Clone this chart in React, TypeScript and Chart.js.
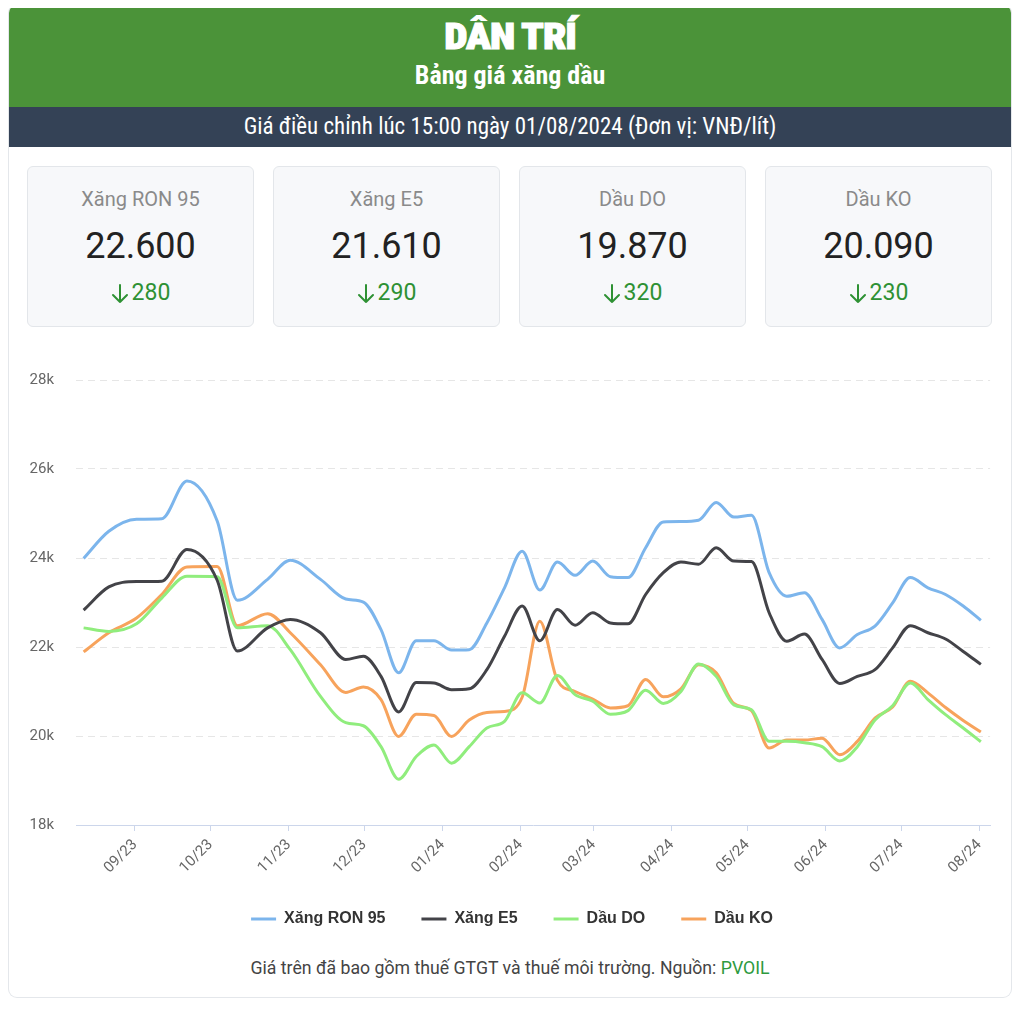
import React, { useEffect, useRef } from "react";
import { Chart, registerables } from "chart.js";

Chart.register(...registerables);

// ---------- DATA ----------
const dates = [
  "2023-08-11", "2023-08-21", "2023-09-01", "2023-09-11", "2023-09-21", "2023-10-03",
  "2023-10-11", "2023-10-23", "2023-11-01", "2023-11-13", "2023-11-23", "2023-11-30",
  "2023-12-07", "2023-12-14", "2023-12-21", "2023-12-28", "2024-01-04", "2024-01-11",
  "2024-01-18", "2024-01-25", "2024-02-01", "2024-02-08", "2024-02-15", "2024-02-22",
  "2024-02-29", "2024-03-07", "2024-03-14", "2024-03-21", "2024-03-28", "2024-04-04",
  "2024-04-11", "2024-04-18", "2024-04-25", "2024-05-02", "2024-05-09", "2024-05-16",
  "2024-05-23", "2024-05-30", "2024-06-06", "2024-06-13", "2024-06-20", "2024-06-27",
  "2024-07-04", "2024-07-11", "2024-07-18", "2024-07-25", "2024-08-01",
];

const ron95 = [
  23990, 24600, 24870, 24880, 25730, 24830, 23050, 23520, 23950, 23520, 23080, 23010,
  22390, 21420, 22140, 22140, 21930, 21940, 22540, 23330, 24150, 23280, 23910, 23610,
  23930, 23580, 23560, 24230, 24810, 24820, 24850, 25250, 24920, 24960, 23670, 23140,
  23220, 22620, 21980, 22280, 22470, 22990, 23560, 23330, 23180, 22920, 22600,
];

const e5 = [
  22830, 23350, 23470, 23480, 24190, 23500, 21910, 22430, 22620, 22320, 21720, 21790,
  21340, 20540, 21200, 21190, 21040, 21060, 21490, 22240, 22920, 22140, 22840, 22490,
  22770, 22540, 22520, 23180, 23670, 23910, 23860, 24230, 23930, 23920, 22770, 22130,
  22290, 21720, 21180, 21340, 21490, 21980, 22480, 22320, 22180, 21900, 21610,
];

const dieselDO = [
  22430, 22350, 22520, 23100, 23590, 23580, 22430, 22480, 21940, 20890, 20300, 20230,
  19760, 19030, 19540, 19800, 19390, 19760, 20180, 20330, 20970, 20740, 21360, 20930,
  20780, 20490, 20570, 21030, 20730, 21000, 21620, 21340, 20700, 20590, 19880, 19880,
  19850, 19760, 19440, 19760, 20360, 20680, 21190, 20820, 20480, 20180, 19870,
];

const keroseneKO = [
  21890, 22320, 22650, 23180, 23800, 23810, 22480, 22750, 22320, 21600, 20980, 21100,
  20820, 19990, 20490, 20460, 19990, 20360, 20530, 20550, 20870, 22580, 21250, 21000,
  20830, 20630, 20680, 21270, 20880, 21060, 21600, 21420, 20730, 20570, 19730, 19910,
  19910, 19950, 19580, 19880, 20400, 20650, 21230, 20970, 20640, 20350, 20090,
];

const seriesNames = ["Xăng RON 95", "Xăng E5", "Dầu DO", "Dầu KO"];
const seriesColors = ["#7cb5ec", "#434348", "#90ed7d", "#f7a35c"];

const monthTicks = [
  "2023-09-01", "2023-10-01", "2023-11-01", "2023-12-01", "2024-01-01", "2024-02-01",
  "2024-03-01", "2024-04-01", "2024-05-01", "2024-06-01", "2024-07-01", "2024-08-01",
];
const monthLabels = [
  "09/23", "10/23", "11/23", "12/23", "01/24", "02/24",
  "03/24", "04/24", "05/24", "06/24", "07/24", "08/24",
];
const yTicks = [18000, 20000, 22000, 24000, 26000, 28000];
const yTickLabels = ["18k", "20k", "22k", "24k", "26k", "28k"];
const xRange = ["2023-08-08T14:30:00Z", "2024-08-05T07:00:00Z"];

const cardPrices = ["22.600", "21.610", "19.870", "20.090"];
const cardChanges = ["280", "290", "320", "230"];

// ---------- HELPERS ----------
const toMs = (s: string, hour = 15) => {
  const [y, m, d] = s.split("-").map(Number);
  return Date.UTC(y, m - 1, d, hour);
};

const FONT = "Roboto, 'Noto Sans', 'Liberation Sans', sans-serif";
const ARIAL = "'Liberation Sans', Arial, Helvetica, sans-serif";
const NARROW = "'Liberation Sans Narrow', 'Roboto Condensed', 'DejaVu Sans Condensed', Roboto, sans-serif";

function PriceChart() {
  const ref = useRef<HTMLCanvasElement | null>(null);
  useEffect(() => {
    if (!ref.current) return;
    const xs = dates.map((d) => toMs(d));
    const all = [ron95, e5, dieselDO, keroseneKO];
    const tickMs = monthTicks.map((d) => toMs(d, 0));
    const chart = new Chart(ref.current, {
      type: "line",
      data: {
        datasets: all.map((vals, i) => ({
          label: seriesNames[i],
          data: vals.map((v, j) => ({ x: xs[j], y: v })),
          borderColor: seriesColors[i],
          backgroundColor: seriesColors[i],
          borderWidth: 3,
          pointRadius: 0,
          pointHoverRadius: 0,
          fill: false,
          cubicInterpolationMode: "monotone" as const,
        })),
      },
      options: {
        animation: false,
        responsive: false,
        devicePixelRatio: 1,
        layout: { padding: { top: 19, right: 0, left: 0, bottom: 0 } },
        plugins: {
          tooltip: { enabled: false },
          legend: {
            position: "bottom",
            labels: {
              boxWidth: 25,
              boxHeight: 3,
              padding: 36,
              color: "#333333",
              font: { family: ARIAL, size: 16, weight: "bold" },
              generateLabels: (c: any) =>
                c.data.datasets.map((ds: any, i: number) => ({
                  text: ds.label,
                  fillStyle: ds.borderColor,
                  strokeStyle: ds.borderColor,
                  lineWidth: 0,
                  hidden: false,
                  datasetIndex: i,
                  fontColor: "#333333",
                })),
            },
          },
        },
        scales: {
          x: {
            type: "linear",
            min: Date.parse(xRange[0]),
            max: Date.parse(xRange[1]),
            afterBuildTicks: (s: any) => {
              s.ticks = tickMs.map((v) => ({ value: v }));
            },
            afterFit: (s: any) => {
              s.height = 50;
            },
            ticks: {
              autoSkip: false,
              maxRotation: 45,
              minRotation: 45,
              color: "#666666",
              padding: 5,
              font: { family: FONT, size: 15 },
              callback: (_v: any, i: number) => monthLabels[i],
            },
            grid: {
              drawOnChartArea: false,
              drawTicks: true,
              tickLength: 6,
              color: "#ccd6eb",
              lineWidth: 1,
            },
            border: { display: true, color: "#ccd6eb", width: 1 },
          },
          y: {
            min: yTicks[0],
            max: yTicks[yTicks.length - 1],
            afterBuildTicks: (s: any) => {
              s.ticks = yTicks.map((v) => ({ value: v }));
            },
            afterFit: (s: any) => {
              s.width = 49;
            },
            ticks: {
              color: "#666666",
              padding: 22,
              font: { family: FONT, size: 15 },
              callback: (v: any) => yTickLabels[yTicks.indexOf(Number(v))],
            },
            grid: {
              drawTicks: false,
              color: (ctx: any) => (ctx.tick && ctx.tick.value === yTicks[0] ? "rgba(0,0,0,0)" : "#e6e6e6"),
              lineWidth: 1,
            },
            border: { display: false, dash: [7, 5] },
          },
        },
      },
    } as any);
    return () => chart.destroy();
  }, []);
  return (
    <canvas
      ref={ref}
      width={970}
      height={588}
      style={{ position: "absolute", left: 18, top: 344, width: 970, height: 588 }}
    />
  );
}

function DownArrow() {
  return (
    <svg width="18" height="20" viewBox="0 0 18 20" style={{ marginRight: 3, marginTop: 1 }}>
      <path d="M9 1 V18 M2 11 L9 18 L16 11" stroke="#2e9133" strokeWidth="2" fill="none" strokeLinecap="round" strokeLinejoin="round" />
    </svg>
  );
}

function PriceCard({ i }: { i: number }) {
  return (
    <div
      style={{
        position: "absolute",
        left: 18 + i * 246,
        top: 161,
        width: 227,
        height: 161,
        boxSizing: "border-box",
        background: "#f7f8fa",
        border: "1px solid #e3e6ea",
        borderRadius: 6,
        fontFamily: FONT,
      }}
    >
      <div style={{ position: "absolute", top: 20, left: 0, right: 0, textAlign: "center", fontSize: 20, color: "#8a8a8a", lineHeight: "24px" }}>
        {seriesNames[i]}
      </div>
      <div style={{ position: "absolute", top: 57, left: 0, right: 0, textAlign: "center", fontSize: 36, color: "#222222", lineHeight: "44px" }}>
        {cardPrices[i]}
      </div>
      <div
        style={{
          position: "absolute",
          top: 112,
          left: 0,
          right: 0,
          display: "flex",
          justifyContent: "center",
          alignItems: "center",
          fontSize: 23,
          color: "#2e9133",
          lineHeight: "28px",
        }}
      >
        <DownArrow />
        <span>{cardChanges[i]}</span>
      </div>
    </div>
  );
}

export default function App() {
  return (
    <div style={{ position: "relative", width: 1008, height: 1000, marginTop: -8 }}>
      <div style={{ position: "absolute", left: -8, top: 1, width: 1024, height: 1, background: "#eeeeee" }} />
      <div
        style={{
          position: "absolute",
          left: 1,
          top: 5,
          width: 1002,
          height: 992,
          borderRadius: 8,
          overflow: "hidden",
          background: "#ffffff",
          boxShadow: "0 0 0 1px #e4e7eb",
        }}
      >
        <div style={{ position: "absolute", left: 0, top: 0, width: 1002, height: 102, background: "#4b9339" }}>
          <div
            style={{
              position: "absolute",
              top: 13,
              left: 0,
              right: 0,
              textAlign: "center",
              color: "#ffffff",
              fontFamily: NARROW,
              fontWeight: 900,
              fontSize: 36,
              lineHeight: "38px",
              letterSpacing: -1,
              WebkitTextStroke: "1px #ffffff",
              transform: "scaleX(1.15)",
            }}
          >
            DÂN TRÍ
          </div>
          <div
            style={{
              position: "absolute",
              top: 55,
              left: 0,
              right: 0,
              textAlign: "center",
              color: "#ffffff",
              fontFamily: NARROW,
              fontWeight: 700,
              fontSize: 26,
              lineHeight: "30px",
            }}
          >
            Bảng giá xăng dầu
          </div>
        </div>
        <div
          style={{
            position: "absolute",
            left: 0,
            top: 102,
            width: 1002,
            height: 40,
            background: "#344256",
            color: "#ffffff",
            textAlign: "center",
            fontFamily: NARROW,
            fontSize: 23,
            lineHeight: "40px",
          }}
        >
          Giá điều chỉnh lúc 15:00 ngày 01/08/2024 (Đơn vị: VNĐ/lít)
        </div>
        {[0, 1, 2, 3].map((i) => (
          <PriceCard key={i} i={i} />
        ))}
        <PriceChart />
        <div
          style={{
            position: "absolute",
            left: 0,
            right: 0,
            top: 952,
            textAlign: "center",
            fontFamily: FONT,
            fontSize: 17.7,
            lineHeight: "22px",
            color: "#444444",
          }}
        >
          Giá trên đã bao gồm thuế GTGT và thuế môi trường. Nguồn: <span style={{ color: "#2e9a3e" }}>PVOIL</span>
        </div>
      </div>
    </div>
  );
}
